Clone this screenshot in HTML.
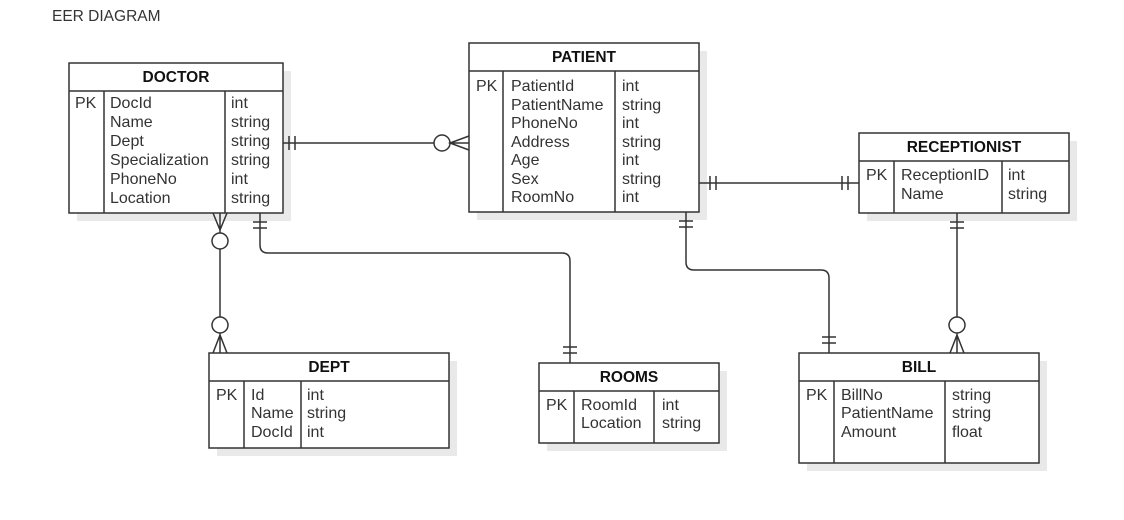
<!DOCTYPE html>
<html><head><meta charset="utf-8"><style>
body{margin:0;background:#fff;width:1124px;height:515px;overflow:hidden}
svg text{font-family:"Liberation Sans",Arial,sans-serif;font-size:16px;fill:#333}
.h{font-weight:bold;fill:#111;text-anchor:middle;font-size:15.5px}
</style></head><body>
<svg width="1124" height="515" viewBox="0 0 1124 515" xmlns="http://www.w3.org/2000/svg" font-family="Liberation Sans, Arial, sans-serif">
<text x="52" y="21" style="font-size:15.5px;fill:#333">EER DIAGRAM</text>
<g fill="#e9e9e9">
<rect x="77" y="71" width="214" height="150"/>
<rect x="477" y="51" width="230" height="169"/>
<rect x="867" y="141" width="210" height="80"/>
<rect x="807" y="361" width="240" height="110"/>
<rect x="217" y="361" width="240" height="95"/>
<rect x="547" y="371" width="180" height="80"/>
</g>
<g fill="#fff" stroke="#333" stroke-width="1.5">
<rect x="69" y="63" width="214" height="150"/><line x1="69" y1="91" x2="283" y2="91"/><line x1="104" y1="91" x2="104" y2="213"/><line x1="225" y1="91" x2="225" y2="213"/>
<rect x="469" y="43" width="230" height="169"/><line x1="469" y1="71" x2="699" y2="71"/><line x1="503" y1="71" x2="503" y2="212"/><line x1="615" y1="71" x2="615" y2="212"/>
<rect x="859" y="133" width="210" height="80"/><line x1="859" y1="161" x2="1069" y2="161"/><line x1="894" y1="161" x2="894" y2="213"/><line x1="1002" y1="161" x2="1002" y2="213"/>
<rect x="799" y="353" width="240" height="110"/><line x1="799" y1="381" x2="1039" y2="381"/><line x1="834" y1="381" x2="834" y2="463"/><line x1="945" y1="381" x2="945" y2="463"/>
<rect x="209" y="353" width="240" height="95"/><line x1="209" y1="381" x2="449" y2="381"/><line x1="244" y1="381" x2="244" y2="448"/><line x1="301" y1="381" x2="301" y2="448"/>
<rect x="539" y="363" width="180" height="80"/><line x1="539" y1="391" x2="719" y2="391"/><line x1="574" y1="391" x2="574" y2="443"/><line x1="654" y1="391" x2="654" y2="443"/>
</g>
<text class="h" x="176" y="82">DOCTOR</text>
<text x="75" y="108">PK</text>
<text x="110" y="108">DocId</text><text x="110" y="127">Name</text><text x="110" y="146">Dept</text><text x="110" y="165">Specialization</text><text x="110" y="184">PhoneNo</text><text x="110" y="203">Location</text>
<text x="231" y="108">int</text><text x="231" y="127">string</text><text x="231" y="146">string</text><text x="231" y="165">string</text><text x="231" y="184">int</text><text x="231" y="203">string</text>

<text class="h" x="584" y="62">PATIENT</text>
<text x="476" y="91">PK</text>
<text x="511" y="91">PatientId</text><text x="511" y="110">PatientName</text><text x="511" y="128">PhoneNo</text><text x="511" y="147">Address</text><text x="511" y="165">Age</text><text x="511" y="184">Sex</text><text x="511" y="202">RoomNo</text>
<text x="622" y="91">int</text><text x="622" y="110">string</text><text x="622" y="128">int</text><text x="622" y="147">string</text><text x="622" y="165">int</text><text x="622" y="184">string</text><text x="622" y="202">int</text>

<text class="h" x="964" y="152">RECEPTIONIST</text>
<text x="866" y="180">PK</text>
<text x="901" y="180">ReceptionID</text><text x="901" y="199">Name</text>
<text x="1008" y="180">int</text><text x="1008" y="199">string</text>

<text class="h" x="919" y="372">BILL</text>
<text x="806" y="400">PK</text>
<text x="841" y="400">BillNo</text><text x="841" y="418">PatientName</text><text x="841" y="437">Amount</text>
<text x="952" y="400">string</text><text x="952" y="418">string</text><text x="952" y="437">float</text>

<text class="h" x="329" y="372">DEPT</text>
<text x="216" y="400">PK</text>
<text x="251" y="400">Id</text><text x="251" y="418">Name</text><text x="251" y="437">DocId</text>
<text x="307" y="400">int</text><text x="307" y="418">string</text><text x="307" y="437">int</text>

<text class="h" x="629" y="382">ROOMS</text>
<text x="546" y="410">PK</text>
<text x="581" y="410">RoomId</text><text x="581" y="428">Location</text>
<text x="662" y="410">int</text><text x="662" y="428">string</text>

<g fill="none" stroke="#333" stroke-width="1.5">
<line x1="283" y1="143" x2="434" y2="143"/>
<line x1="289" y1="136" x2="289" y2="150"/><line x1="295" y1="136" x2="295" y2="150"/>
<circle cx="442" cy="143" r="8" fill="#fff"/>
<path d="M469 136 L450 143 L469 150 M450 143 L469 143"/>
<line x1="699" y1="183" x2="859" y2="183"/>
<line x1="710" y1="176" x2="710" y2="190"/><line x1="716" y1="176" x2="716" y2="190"/>
<line x1="842" y1="176" x2="842" y2="190"/><line x1="848" y1="176" x2="848" y2="190"/>
<path d="M213 213 L220 230 L227 213 M220 213 L220 233"/>
<circle cx="220" cy="241" r="8" fill="#fff"/>
<line x1="220" y1="249" x2="220" y2="317"/>
<circle cx="220" cy="325" r="8" fill="#fff"/>
<path d="M213 353 L220 335 L227 353 M220 333 L220 353"/>
<path d="M260 213 L260 245 Q260 253 268 253 L562 253 Q570 253 570 261 L570 363"/>
<line x1="253" y1="222" x2="267" y2="222"/><line x1="253" y1="228" x2="267" y2="228"/>
<line x1="563" y1="347" x2="577" y2="347"/><line x1="563" y1="353" x2="577" y2="353"/>
<path d="M686 212 L686 262 Q686 270 694 270 L821 270 Q829 270 829 278 L829 353"/>
<line x1="679" y1="221" x2="693" y2="221"/><line x1="679" y1="227" x2="693" y2="227"/>
<line x1="822" y1="337" x2="836" y2="337"/><line x1="822" y1="343" x2="836" y2="343"/>
<line x1="957" y1="213" x2="957" y2="317"/>
<line x1="950" y1="222" x2="964" y2="222"/><line x1="950" y1="228" x2="964" y2="228"/>
<circle cx="957" cy="325" r="8" fill="#fff"/>
<path d="M950 353 L957 335 L964 353 M957 333 L957 353"/>
</g>
</svg>
</body></html>
